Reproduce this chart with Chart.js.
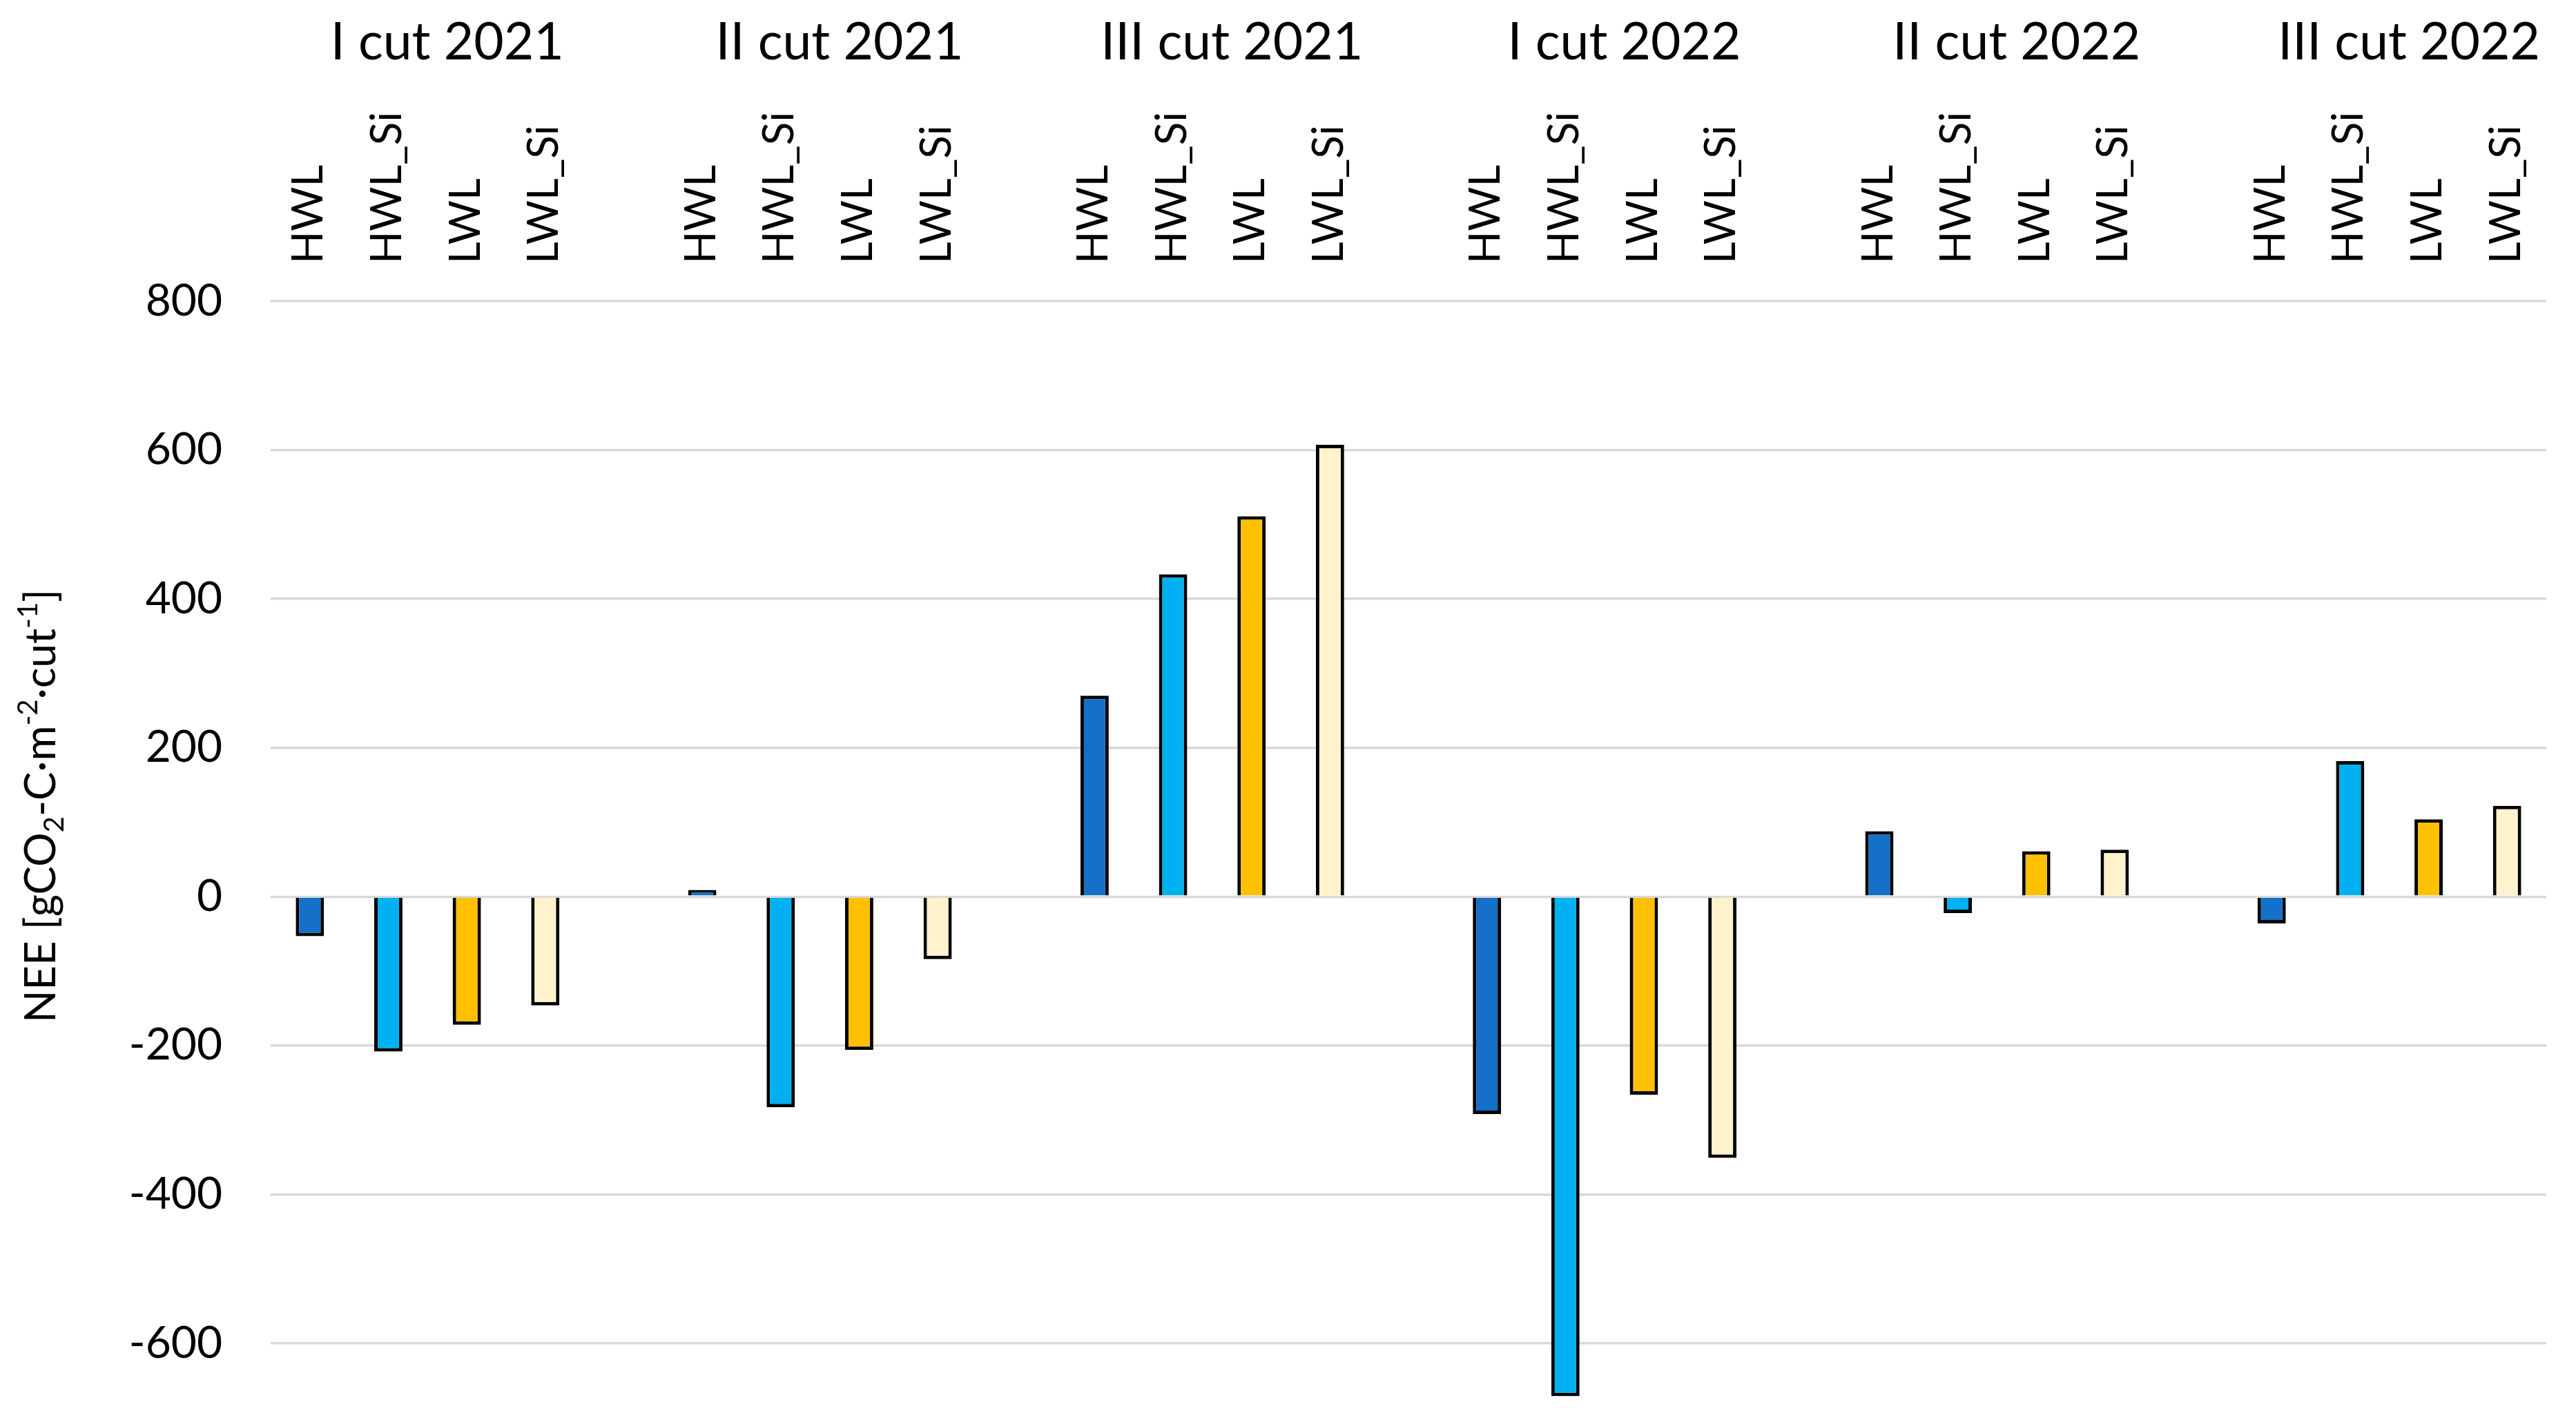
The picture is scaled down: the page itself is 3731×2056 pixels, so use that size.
<!DOCTYPE html>
<html>
<head>
<meta charset="utf-8">
<title>NEE per cut</title>
<script src="https://cdn.jsdelivr.net/npm/chart.js@4.4.1/dist/chart.umd.min.js"></script>
<style>
  html, body { margin: 0; padding: 0; background: #fff; overflow: hidden; }
  #wrap { width: 3731px; height: 2056px; }
</style>
</head>
<body>
<div id="wrap"><canvas id="chart-nee" width="3731" height="2056"></canvas></div>
<script>
/* NEE per cut and treatment, 2021-2022 */

const cutLabels  = ['I cut 2021', 'II cut 2021', 'III cut 2021', 'I cut 2022', 'II cut 2022', 'III cut 2022'];
const treatments = ['HWL', 'HWL_Si', 'LWL', 'LWL_Si'];

const neeHWL   = [-53,    9, 270, -292, 88, -36];
const neeHWLSi = [-208, -283, 433, -671, -22, 182];
const neeLWL   = [-172, -206, 511, -266, 61, 104];
const neeLWLSi = [-146,  -84, 607, -351, 63, 122];

const yTicks = [-600, -400, -200, 0, 200, 400, 600, 800];

const FONT = 'Lato, "Open Sans", sans-serif';
const COLORS = ['#1470C8', '#00B0F0', '#FFC000', '#FFF2CC'];

// one category per bar, with an empty slot between cuts
const categories = [];
cutLabels.forEach((c, g) => {
  treatments.forEach(t => categories.push(t));
  if (g < cutLabels.length - 1) categories.push('');
});

function slotData(values, s) {
  const out = new Array(categories.length).fill(null);
  values.forEach((v, g) => { out[g * 5 + s] = v; });
  return out;
}

const series = [neeHWL, neeHWLSi, neeLWL, neeLWLSi];

// cut names above the treatment labels, y title with sub/superscripts
const extraText = {
  id: 'extraText',
  afterDraw(chart) {
    const ctx = chart.ctx;
    const xs = chart.scales.x;
    const area = chart.chartArea;
    const slot = xs.getPixelForValue(1) - xs.getPixelForValue(0);

    ctx.save();
    ctx.fillStyle = '#000';
    ctx.font = '75px ' + FONT;
    ctx.textAlign = 'center';
    ctx.textBaseline = 'alphabetic';
    cutLabels.forEach((label, g) => {
      const w = ctx.measureText(label).width;
      let x = xs.getPixelForValue(g * 5) + 1.75 * slot;
      x = Math.min(x, area.right - 3 - w / 2);
      ctx.fillText(label, x, 86);
    });
    ctx.restore();

    const parts = [
      { t: 'NEE [gCO', k: 0 },
      { t: '2', k: 1 },
      { t: '-C·m', k: 0 },
      { t: '-2', k: -1 },
      { t: '·cut', k: 0 },
      { t: '-1', k: -1 },
      { t: ']', k: 0 }
    ];
    const big = 62, small = 40;
    ctx.save();
    ctx.fillStyle = '#000';
    ctx.textBaseline = 'alphabetic';
    ctx.textAlign = 'left';
    let total = 0;
    parts.forEach(p => {
      ctx.font = (p.k ? small : big) + 'px ' + FONT;
      p.w = ctx.measureText(p.t).width;
      total += p.w;
    });
    ctx.translate(80, 1167);
    ctx.rotate(-Math.PI / 2);
    let x = -total / 2;
    parts.forEach(p => {
      ctx.font = (p.k ? small : big) + 'px ' + FONT;
      const dy = p.k === 1 ? 12 : p.k === -1 ? -26 : 0;
      ctx.fillText(p.t, x, dy);
      x += p.w;
    });
    ctx.restore();
  }
};

new Chart(document.getElementById('chart-nee').getContext('2d'), {
  type: 'bar',
  data: {
    labels: categories,
    datasets: series.map((vals, s) => ({
      label:              treatments[s],
      data:               slotData(vals, s),
      backgroundColor:    COLORS[s],
      borderColor:        '#000000',
      borderWidth:        5,
      categoryPercentage: 1,
      barPercentage:      0.36,
      skipNull:           true,
    }))
  },
  options: {
    responsive: false,
    animation: false,
    devicePixelRatio: 1,
    layout: { padding: { left: 0, top: 0, bottom: 0, right: 43 } },
    plugins: {
      legend:  { display: false },
      tooltip: { enabled: false }
    },
    scales: {
      x: {
        position: 'top',
        grid:   { display: false, drawTicks: false },
        border: { display: false },
        ticks: {
          autoSkip: false,
          minRotation: 90,
          maxRotation: 90,
          padding: 54,
          labelOffset: 73,
          color: '#000',
          font: { family: FONT, size: 62 }
        },
        afterFit(scale) {
          scale.height = 436;
          scale.paddingLeft = 0;
          scale.paddingRight = 0;
        }
      },
      y: {
        min: -703,
        max: 800,
        grid:   { color: '#D9D9D9', lineWidth: 3.5, drawTicks: false },
        border: { display: false },
        ticks: {
          padding: 70,
          color: '#000',
          font: { family: FONT, size: 64 }
        },
        afterBuildTicks(scale) {
          scale.ticks = yTicks.map(v => ({ value: v }));
        },
        afterFit(scale) {
          scale.width = 392;
          scale.paddingTop = 0;
          scale.paddingBottom = 0;
        }
      }
    }
  },
  plugins: [extraText]
});
</script>
</body>
</html>
